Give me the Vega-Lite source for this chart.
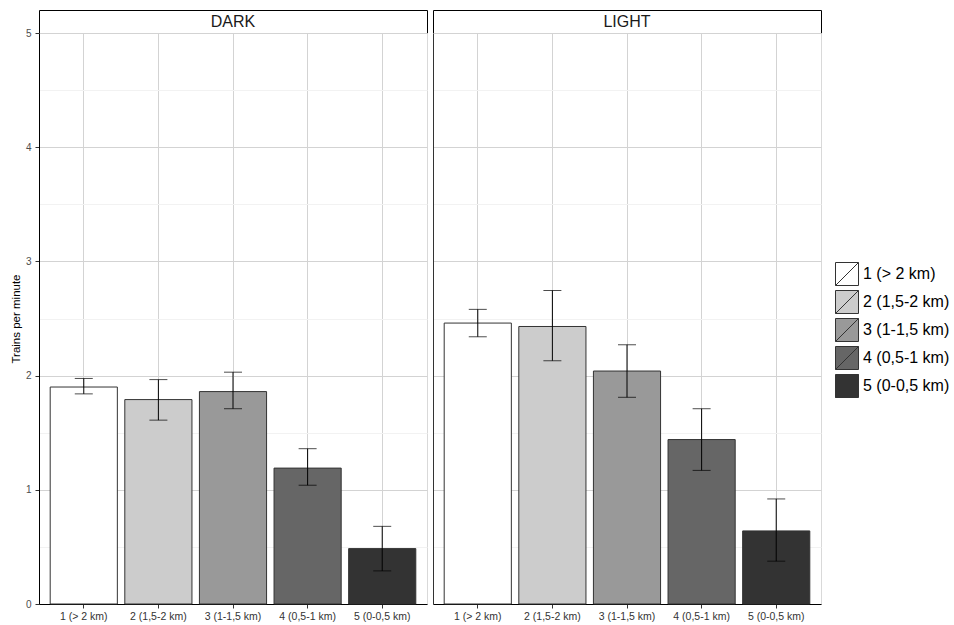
{
  "$schema": "https://vega.github.io/schema/vega-lite/v6.json",
  "padding": {"left": 9, "top": 9, "right": 5, "bottom": 3},
  "config": {
    "font": "Liberation Sans",
    "view": {"stroke": "#d9d9d9"}
  },
  "datasets": {
    "bars": [
      {"panel": "DARK", "zone": "1 (> 2 km)", "mean": 1.90, "lo": 1.84, "hi": 1.975},
      {"panel": "DARK", "zone": "2 (1,5-2 km)", "mean": 1.79, "lo": 1.61, "hi": 1.965},
      {"panel": "DARK", "zone": "3 (1-1,5 km)", "mean": 1.86, "lo": 1.71, "hi": 2.03},
      {"panel": "DARK", "zone": "4 (0,5-1 km)", "mean": 1.19, "lo": 1.04, "hi": 1.36},
      {"panel": "DARK", "zone": "5 (0-0,5 km)", "mean": 0.485, "lo": 0.29, "hi": 0.68},
      {"panel": "LIGHT", "zone": "1 (> 2 km)", "mean": 2.46, "lo": 2.34, "hi": 2.58},
      {"panel": "LIGHT", "zone": "2 (1,5-2 km)", "mean": 2.43, "lo": 2.13, "hi": 2.745},
      {"panel": "LIGHT", "zone": "3 (1-1,5 km)", "mean": 2.04, "lo": 1.81, "hi": 2.27},
      {"panel": "LIGHT", "zone": "4 (0,5-1 km)", "mean": 1.44, "lo": 1.17, "hi": 1.71},
      {"panel": "LIGHT", "zone": "5 (0-0,5 km)", "mean": 0.64, "lo": 0.375, "hi": 0.92}
    ]
  },
  "spacing": 4,
  "hconcat": [
    {
      "spacing": 0,
      "bounds": "flush",
      "vconcat": [
        {
          "width": 388,
          "height": 23,
          "view": {"stroke": "#000000", "fill": "#ffffff", "strokeWidth": 1},
          "data": {"values": [{"label": "DARK"}]},
          "mark": {"type": "text", "fontSize": 16, "color": "#1a1a1a"},
          "encoding": {"text": {"field": "label"}}
        },
        {
          "width": 388,
          "height": 571,
          "data": {"name": "bars"},
          "transform": [{"filter": "datum.panel === 'DARK'"}],
          "encoding": {
            "x": {
              "field": "zone", "type": "nominal", "sort": null,
              "scale": {"paddingInner": 0.1, "paddingOuter": 0.15},
              "axis": {"title": null, "labelAngle": 0, "labelFontSize": 10.5, "labelColor": "#333333", "tickSize": 4, "tickColor": "#333333", "domainColor": "#000000", "grid": true, "gridColor": "#d3d3d3", "labelPadding": 3}
            }
          },
          "layer": [
            {
              "mark": {"type": "bar", "stroke": "#333333", "strokeWidth": 1},
              "encoding": {
                "y": {
                  "field": "mean", "type": "quantitative", "title": "Trains per minute",
                  "scale": {"domain": [0, 5], "nice": false},
                  "axis": {
                    "values": [0, 0.5, 1, 1.5, 2, 2.5, 3, 3.5, 4, 4.5, 5],
                    "labelExpr": "datum.value % 1 === 0 ? format(datum.value, 'd') : ''",
                    "title": "Trains per minute", "titleFontSize": 11.5, "titleFontWeight": "normal", "titleColor": "#000000", "titlePadding": 4,
                    "labelFontSize": 10, "labelColor": "#4d4d4d", "labelPadding": 4, "tickSize": 4,
                    "tickColor": {"condition": {"test": "datum.value % 1 === 0", "value": "#333333"}, "value": "rgba(0,0,0,0)"},
                    "domainColor": "#000000",
                    "gridColor": {"condition": {"test": "datum.value % 1 === 0", "value": "#d3d3d3"}, "value": "#f2f2f2"}
                  }
                },
                "fill": {
                  "field": "zone", "type": "nominal", "sort": null,
                  "scale": {"domain": ["1 (> 2 km)", "2 (1,5-2 km)", "3 (1-1,5 km)", "4 (0,5-1 km)", "5 (0-0,5 km)"], "range": ["#ffffff", "#cccccc", "#999999", "#666666", "#333333"]},
                  "legend": {"title": null, "orient": "none", "legendX": 796, "legendY": 252, "symbolType": "M-1,-1H1V1H-1Z M-1,1L1,-1", "symbolSize": 529, "symbolStrokeColor": "#333333", "symbolStrokeWidth": 1, "symbolOpacity": 1, "rowPadding": 0, "labelFontSize": 16, "labelColor": "#000000", "labelOffset": 4, "labelLimit": 200}
                }
              }
            },
            {
              "mark": {"type": "rule", "color": "#000000", "strokeWidth": 1},
              "encoding": {
                "y": {"field": "lo", "type": "quantitative", "title": "Trains per minute"},
                "y2": {"field": "hi"}
              }
            },
            {
              "mark": {"type": "tick", "color": "#000000", "size": 18, "thickness": 1},
              "encoding": {"y": {"field": "lo", "type": "quantitative", "title": "Trains per minute"}}
            },
            {
              "mark": {"type": "tick", "color": "#000000", "size": 18, "thickness": 1},
              "encoding": {"y": {"field": "hi", "type": "quantitative", "title": "Trains per minute"}}
            }
          ]
        }
      ]
    },
    {
      "spacing": 0,
      "bounds": "flush",
      "vconcat": [
        {
          "width": 388,
          "height": 23,
          "view": {"stroke": "#000000", "fill": "#ffffff", "strokeWidth": 1},
          "data": {"values": [{"label": "LIGHT"}]},
          "mark": {"type": "text", "fontSize": 16, "color": "#1a1a1a"},
          "encoding": {"text": {"field": "label"}}
        },
        {
          "width": 388,
          "height": 571,
          "data": {"name": "bars"},
          "transform": [{"filter": "datum.panel === 'LIGHT'"}],
          "encoding": {
            "x": {
              "field": "zone", "type": "nominal", "sort": null,
              "scale": {"paddingInner": 0.1, "paddingOuter": 0.15},
              "axis": {"title": null, "labelAngle": 0, "labelFontSize": 10.5, "labelColor": "#333333", "tickSize": 4, "tickColor": "#333333", "domainColor": "#000000", "grid": true, "gridColor": "#d3d3d3", "labelPadding": 3}
            }
          },
          "layer": [
            {
              "mark": {"type": "bar", "stroke": "#333333", "strokeWidth": 1},
              "encoding": {
                "y": {
                  "field": "mean", "type": "quantitative", "title": null,
                  "scale": {"domain": [0, 5], "nice": false},
                  "axis": {
                    "values": [0, 0.5, 1, 1.5, 2, 2.5, 3, 3.5, 4, 4.5, 5],
                    "title": null, "labels": false, "ticks": false, "domainColor": "#333333", "minExtent": 0,
                    "gridColor": {"condition": {"test": "datum.value % 1 === 0", "value": "#d3d3d3"}, "value": "#f2f2f2"}
                  }
                },
                "fill": {
                  "field": "zone", "type": "nominal", "sort": null,
                  "scale": {"domain": ["1 (> 2 km)", "2 (1,5-2 km)", "3 (1-1,5 km)", "4 (0,5-1 km)", "5 (0-0,5 km)"], "range": ["#ffffff", "#cccccc", "#999999", "#666666", "#333333"]},
                  "legend": {"title": null, "orient": "none", "legendX": 796, "legendY": 252, "symbolType": "M-1,-1H1V1H-1Z M-1,1L1,-1", "symbolSize": 529, "symbolStrokeColor": "#333333", "symbolStrokeWidth": 1, "symbolOpacity": 1, "rowPadding": 0, "labelFontSize": 16, "labelColor": "#000000", "labelOffset": 4, "labelLimit": 200}
                }
              }
            },
            {
              "mark": {"type": "rule", "color": "#000000", "strokeWidth": 1},
              "encoding": {
                "y": {"field": "lo", "type": "quantitative", "title": null},
                "y2": {"field": "hi"}
              }
            },
            {
              "mark": {"type": "tick", "color": "#000000", "size": 18, "thickness": 1},
              "encoding": {"y": {"field": "lo", "type": "quantitative", "title": null}}
            },
            {
              "mark": {"type": "tick", "color": "#000000", "size": 18, "thickness": 1},
              "encoding": {"y": {"field": "hi", "type": "quantitative", "title": null}}
            }
          ]
        }
      ]
    }
  ]
}
